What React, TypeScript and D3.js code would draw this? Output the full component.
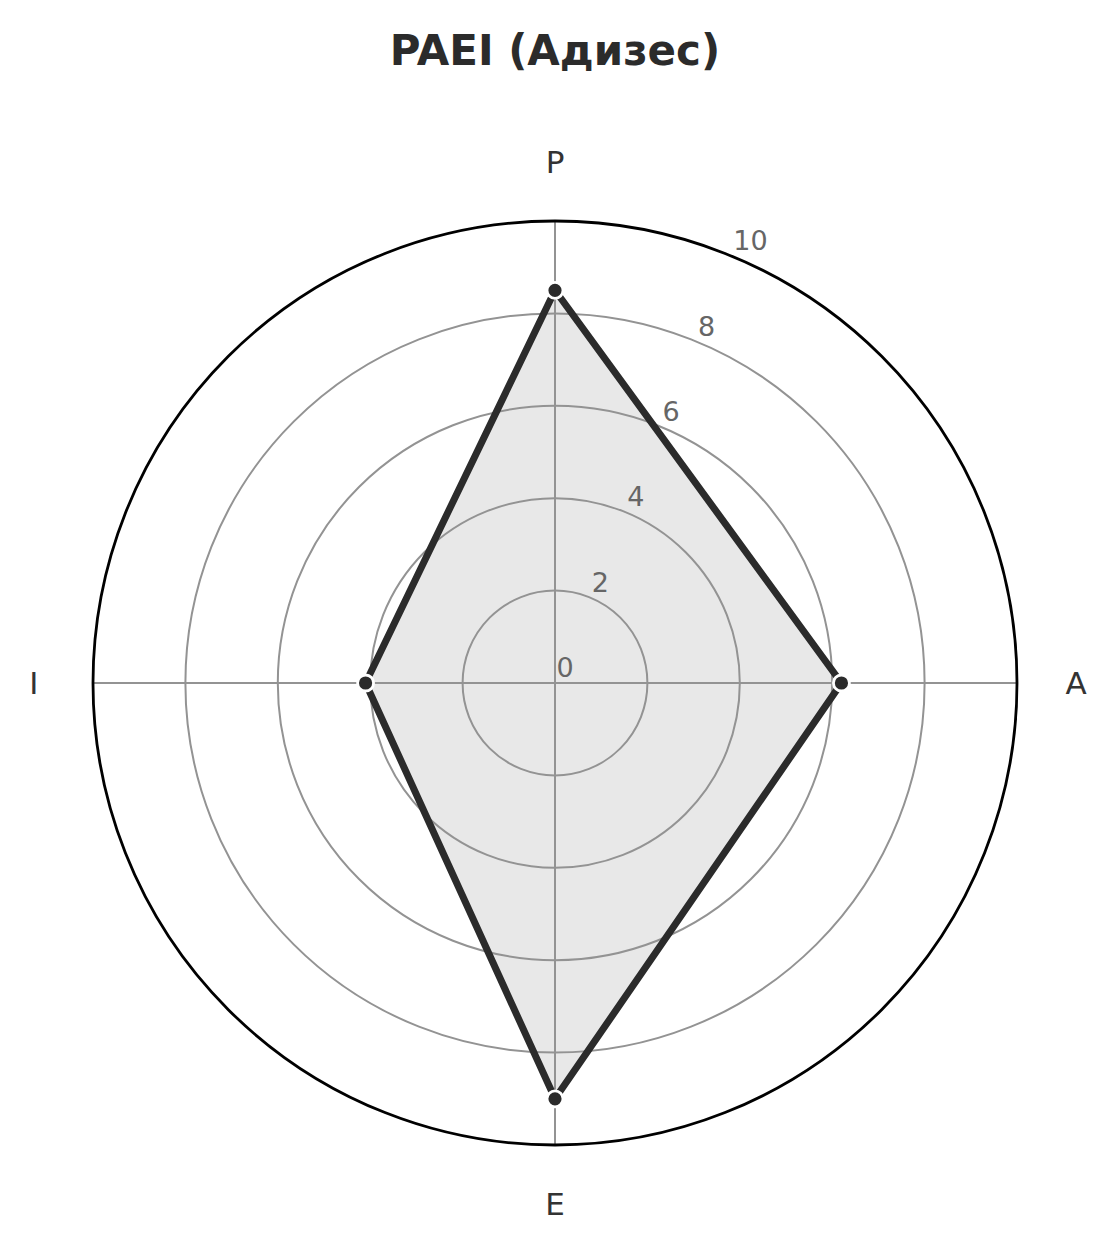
import React from "react";
import * as d3 from "d3";

const axes = ["P", "A", "E", "I"];
const values = [8.5, 6.2, 9.0, 4.1];
const rTicks = [0, 2, 4, 6, 8, 10];
const title = "PAEI (Адизес)";

const W = 1116;
const H = 1250;
const cx = 555;
const cy = 683;
const R = 462;

export default function App() {
  const r = d3.scaleLinear().domain([0, 10]).range([0, R]);
  const ang = (i: number) => (i * 2 * Math.PI) / axes.length; // clockwise from north
  const pt = (i: number, v: number): [number, number] => [
    cx + r(v) * Math.sin(ang(i)),
    cy - r(v) * Math.cos(ang(i)),
  ];
  const pts = values.map((v, i) => pt(i, v));
  const line = d3.line().curve(d3.curveLinearClosed);
  const path = line(pts) || "";
  const rlabAng = (22.5 * Math.PI) / 180;
  const font = "DejaVu Sans, sans-serif";
  const gridColor = "#939393";

  return (
    <svg width={W} height={H} style={{ display: "block", position: "absolute", left: 0, top: 0 }}>
      <rect width={W} height={H} fill="#fff" />
      <text x={cx} y={65} textAnchor="middle" fontFamily={font} fontWeight="bold" fontSize={42} fill="#2b2b2b">
        {title}
      </text>
      <path d={path} fill="#e8e8e8" stroke="none" />
      {rTicks.filter((t) => t > 0 && t < 10).map((t) => (
        <circle key={t} cx={cx} cy={cy} r={r(t)} fill="none" stroke={gridColor} strokeWidth={2} />
      ))}
      {axes.map((a, i) => {
        const [x2, y2] = pt(i, 10);
        return <line key={a} x1={cx} y1={cy} x2={x2} y2={y2} stroke={gridColor} strokeWidth={2} />;
      })}
      <circle cx={cx} cy={cy} r={R} fill="none" stroke="#000" strokeWidth={2.8} />
      <path d={path} fill="none" stroke="#2b2b2b" strokeWidth={7} strokeLinejoin="miter" />
      {pts.map(([x, y], i) => (
        <circle key={i} cx={x} cy={y} r={8} fill="#2b2b2b" stroke="#fff" strokeWidth={2.8} />
      ))}
      {rTicks.map((t) => (
        <text
          key={t}
          x={cx + r(t) * Math.sin(rlabAng) + 1.5}
          y={cy - r(t) * Math.cos(rlabAng) - 6}
          fontFamily={font}
          fontSize={27}
          fill="#666"
        >
          {t}
        </text>
      ))}
      {axes.map((a, i) => {
        const [x, y] = pt(i, 11.28);
        return (
          <text key={a} x={x} y={y} textAnchor="middle" dominantBaseline="central" fontFamily={font} fontSize={31} fill="#333">
            {a}
          </text>
        );
      })}
    </svg>
  );
}
